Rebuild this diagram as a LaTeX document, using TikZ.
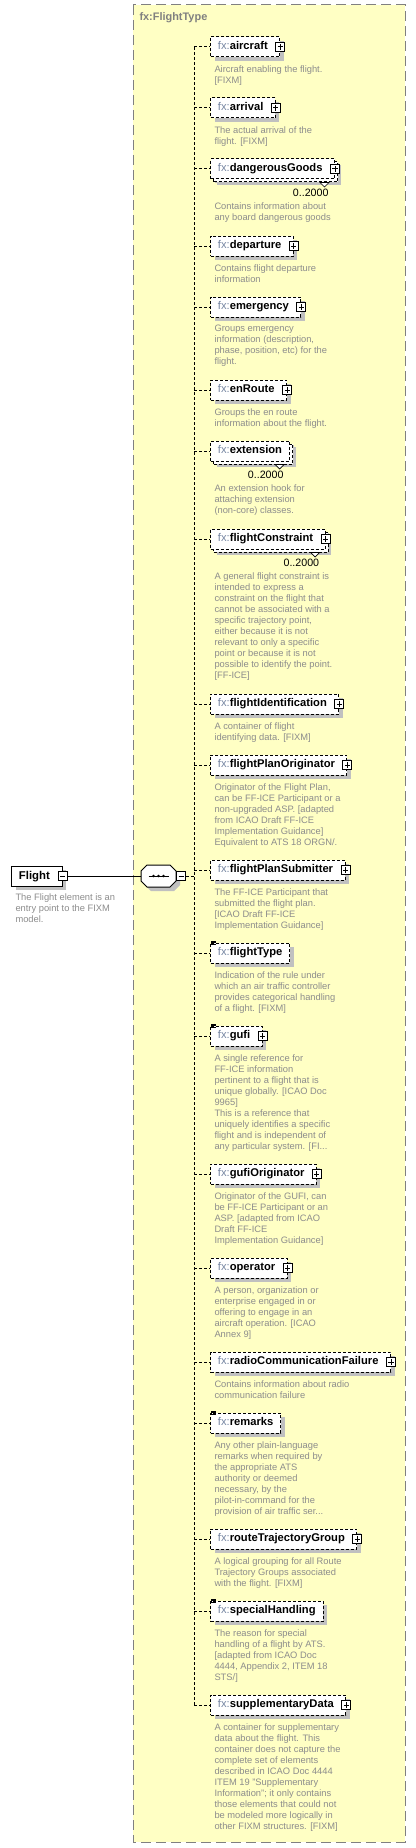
\documentclass[tikz,border=0pt]{standalone}
\usepackage{fontspec}
\setmainfont{Liberation Sans}
\usetikzlibrary{positioning, shadows, calc}

\definecolor{typeyellow}{RGB}{255,255,196}
\definecolor{shadowgray}{RGB}{192,192,192}
\definecolor{docgray}{RGB}{140,140,140}
\definecolor{prefixblue}{RGB}{118,134,162}
\definecolor{framegray}{RGB}{128,128,128}

\newcommand{\fxname}[1]{{\color{prefixblue}fx:}\textbf{#1}}

\begin{document}
\begin{tikzpicture}[
    x=0.75pt, y=-0.75pt, line width=0.75pt,
    % Element boxes
    elem/.style={draw, dash pattern=on 2.25pt off 1.5pt, fill=white, anchor=west, minimum height=15pt, inner xsep=5.6pt, inner ysep=0pt, text height=6pt, text depth=1.7pt, font=\fontsize{8.4}{10}\selectfont, drop shadow={shadow xshift=3pt, shadow yshift=-3pt, fill=shadowgray, opacity=1}},
    multi/.style={general shadow={shadow xshift=4.5pt, shadow yshift=-4.5pt, fill=shadowgray}, general shadow={shadow xshift=2.25pt, shadow yshift=-2.25pt, fill=white, draw=black, dash pattern=on 2.25pt off 1.5pt}},
    root/.style={draw, fill=white, anchor=west, minimum height=15pt, inner xsep=5.6pt, inner ysep=0pt, text height=6.3pt, text depth=0.5pt, font=\fontsize{8.5}{10}\selectfont\bfseries, drop shadow={shadow xshift=3pt, shadow yshift=-3pt, fill=shadowgray, opacity=1}},
    seq/.style={minimum width=25.5pt, minimum height=15.75pt, inner sep=0pt, anchor=west},
    octagon/.style={draw, fill=white, drop shadow={shadow xshift=3pt, shadow yshift=-3pt, fill=shadowgray, opacity=1}},
    % Small signs
    plus/.style={draw, solid, fill=white, minimum size=6.8pt, inner sep=0pt, path picture={
        \draw ([xshift=1.5pt]path picture bounding box.west) -- ([xshift=-1.5pt]path picture bounding box.east);
        \draw ([yshift=-1.5pt]path picture bounding box.north) -- ([yshift=1.5pt]path picture bounding box.south);}},
    minus/.style={draw, solid, fill=white, minimum size=6.8pt, inner sep=0pt, path picture={
        \draw ([xshift=1.5pt]path picture bounding box.west) -- ([xshift=-1.5pt]path picture bounding box.east);}},
    icon/.style={solid, line width=0.6pt},
    notch/.style={draw, solid, fill=white, line width=0.5pt},
    % Texts
    doc/.style={align=left, inner sep=0pt, text=docgray, font=\fontsize{7}{8.25}\selectfont},
    occ/.style={inner sep=0pt, font=\fontsize{8}{9.6}\selectfont},
    % Lines
    conn/.style={draw=black, dash pattern=on 2.25pt off 1.5pt},
    frame/.style={draw=framegray, fill=typeyellow, dash pattern=on 7.5pt off 3.75pt}
]
    \useasboundingbox (0,0) rectangle (416,1848);

    % ==================== Complex type frame ====================
    \draw [frame] (133,5) rectangle (405,1842);
    \node (title) [anchor=west, inner sep=0pt, text=framegray, font=\fontsize{8.2}{9.8}\selectfont\bfseries] at (139,18) {fx:FlightType};

    \coordinate (bus) at (194,0);

    % ==================== Root element and sequence ====================
    \node (flight) [root] at (11,876) {Flight\kern3.75pt};
    \node (flight_minus) [minus] at (flight.east) {};
    \node (flight_doc) [doc, below right=5pt and 3pt of flight.south west] {The Flight element is an\\entry point to the FIXM\\model.};

    \node (seq) [seq] at (141,876) {};
    \draw [octagon] ([xshift=4.5pt]seq.north west) -- ([xshift=-4.5pt]seq.north east) -- ([yshift=-4.5pt]seq.north east) -- ([yshift=4.5pt]seq.south east) -- ([xshift=-4.5pt]seq.south east) -- ([xshift=4.5pt]seq.south west) -- ([yshift=4.5pt]seq.south west) -- ([yshift=-4.5pt]seq.north west) -- cycle;
    \node (seq_minus) [minus, right=0pt of seq] {};
    \draw (seq.center) ++(-10,0) -- ++(20,0);
    \foreach \dx in {-5,0,5}
        \fill ($(seq.center)+(\dx,0)$) circle (1.1pt);

    \draw (flight_minus.east) -- (seq.west);

    % ==================== Child elements ====================
    \node (aircraft) [elem] at (210,47) {\fxname{aircraft}\kern3.4pt};
    \node (aircraft_plus) [plus] at (aircraft.east) {};
    \node (aircraft_doc) [doc, below right=5.5pt and 3pt of aircraft.south west] {Aircraft enabling the flight.\\{}[FIXM]};

    \node (arrival) [elem] at (210,108) {\fxname{arrival}\kern3.4pt};
    \node (arrival_plus) [plus] at (arrival.east) {};
    \node (arrival_doc) [doc, below right=5.5pt and 3pt of arrival.south west] {The actual arrival of the\\flight. [FIXM]};

    \node (dangerousGoods) [elem, multi] at (210,169) {\fxname{dangerousGoods}\kern3.4pt};
    \node (dangerousGoods_plus) [plus] at (dangerousGoods.east) {};
    \draw [notch] ([shift={(-15,3)}]dangerousGoods.south east) -- ++(9,0) -- ++(-4.5,4.5) -- cycle;
    \node (dangerousGoods_occ) [occ, below left=6.5pt and 4.5pt of dangerousGoods.south east] {0..2000};
    \node (dangerousGoods_doc) [doc, below right=17pt and 3pt of dangerousGoods.south west] {Contains information about\\any board dangerous goods};

    \node (departure) [elem] at (210,246) {\fxname{departure}\kern3.4pt};
    \node (departure_plus) [plus] at (departure.east) {};
    \node (departure_doc) [doc, below right=5.5pt and 3pt of departure.south west] {Contains flight departure\\information};

    \node (emergency) [elem] at (210,307) {\fxname{emergency}\kern3.4pt};
    \node (emergency_plus) [plus] at (emergency.east) {};
    \node (emergency_doc) [doc, below right=5.5pt and 3pt of emergency.south west] {Groups emergency\\information (description,\\phase, position, etc) for the\\flight.};

    \node (enRoute) [elem] at (210,390) {\fxname{enRoute}\kern3.4pt};
    \node (enRoute_plus) [plus] at (enRoute.east) {};
    \node (enRoute_doc) [doc, below right=5.5pt and 3pt of enRoute.south west] {Groups the en route\\information about the flight.};

    \node (extension) [elem, multi] at (210,451) {\fxname{extension}};
    \draw [notch] ([shift={(-15,3)}]extension.south east) -- ++(9,0) -- ++(-4.5,4.5) -- cycle;
    \node (extension_occ) [occ, below left=6.5pt and 4.5pt of extension.south east] {0..2000};
    \node (extension_doc) [doc, below right=17pt and 3pt of extension.south west] {An extension hook for\\attaching extension\\(non-core) classes.};

    \node (flightConstraint) [elem, multi] at (210,539) {\fxname{flightConstraint}\kern3.4pt};
    \node (flightConstraint_plus) [plus] at (flightConstraint.east) {};
    \draw [notch] ([shift={(-15,3)}]flightConstraint.south east) -- ++(9,0) -- ++(-4.5,4.5) -- cycle;
    \node (flightConstraint_occ) [occ, below left=6.5pt and 4.5pt of flightConstraint.south east] {0..2000};
    \node (flightConstraint_doc) [doc, below right=17pt and 3pt of flightConstraint.south west] {A general flight constraint is\\intended to express a\\constraint on the flight that\\cannot be associated with a\\specific trajectory point,\\either because it is not\\relevant to only a specific\\point or because it is not\\possible to identify the point.\\{}[FF-ICE]};

    \node (flightIdentification) [elem] at (210,704) {\fxname{flightIdentification}\kern3.4pt};
    \node (flightIdentification_plus) [plus] at (flightIdentification.east) {};
    \node (flightIdentification_doc) [doc, below right=5.5pt and 3pt of flightIdentification.south west] {A container of flight\\identifying data. [FIXM]};

    \node (flightPlanOriginator) [elem] at (210,765) {\fxname{flightPlanOriginator}\kern3.4pt};
    \node (flightPlanOriginator_plus) [plus] at (flightPlanOriginator.east) {};
    \node (flightPlanOriginator_doc) [doc, below right=5.5pt and 3pt of flightPlanOriginator.south west] {Originator of the Flight Plan,\\can be FF-ICE Participant or a\\non-upgraded ASP. [adapted\\from ICAO Draft FF-ICE\\Implementation Guidance]\\Equivalent to ATS 18 ORGN/.};

    \node (flightPlanSubmitter) [elem] at (210,870) {\fxname{flightPlanSubmitter}\kern3.4pt};
    \node (flightPlanSubmitter_plus) [plus] at (flightPlanSubmitter.east) {};
    \node (flightPlanSubmitter_doc) [doc, below right=5.5pt and 3pt of flightPlanSubmitter.south west] {The FF-ICE Participant that\\submitted the flight plan.\\{}[ICAO Draft FF-ICE\\Implementation Guidance]};

    \node (flightType) [elem] at (210,953) {\fxname{flightType}};
    \draw [icon] ([shift={(1,-1.5)}]flightType.north west) -- ++(5,0) ++(-5,1.8) -- ++(5,0) ++(-5,1.8) -- ++(5,0);
    \node (flightType_doc) [doc, below right=5.5pt and 3pt of flightType.south west] {Indication of the rule under\\which an air traffic controller\\provides categorical handling\\of a flight. [FIXM]};

    \node (gufi) [elem] at (210,1036) {\fxname{gufi}\kern3.4pt};
    \node (gufi_plus) [plus] at (gufi.east) {};
    \draw [icon] ([shift={(1,-1.5)}]gufi.north west) -- ++(5,0) ++(-5,1.8) -- ++(5,0) ++(-5,1.8) -- ++(5,0);
    \node (gufi_doc) [doc, below right=5.5pt and 3pt of gufi.south west] {A single reference for\\FF-ICE information\\pertinent to a flight that is\\unique globally. [ICAO Doc\\9965]\\This is a reference that\\uniquely identifies a specific\\flight and is independent of\\any particular system. [FI...};

    \node (gufiOriginator) [elem] at (210,1174) {\fxname{gufiOriginator}\kern3.4pt};
    \node (gufiOriginator_plus) [plus] at (gufiOriginator.east) {};
    \node (gufiOriginator_doc) [doc, below right=5.5pt and 3pt of gufiOriginator.south west] {Originator of the GUFI, can\\be FF-ICE Participant or an\\ASP. [adapted from ICAO\\Draft FF-ICE\\Implementation Guidance]};

    \node (operator) [elem] at (210,1268) {\fxname{operator}\kern3.4pt};
    \node (operator_plus) [plus] at (operator.east) {};
    \node (operator_doc) [doc, below right=5.5pt and 3pt of operator.south west] {A person, organization or\\enterprise engaged in or\\offering to engage in an\\aircraft operation. [ICAO\\Annex 9]};

    \node (radioCommunicationFailure) [elem] at (210,1362) {\fxname{radioCommunicationFailure}\kern3.4pt};
    \node (radioCommunicationFailure_plus) [plus] at (radioCommunicationFailure.east) {};
    \node (radioCommunicationFailure_doc) [doc, below right=5.5pt and 3pt of radioCommunicationFailure.south west] {Contains information about radio\\communication failure};

    \node (remarks) [elem] at (210,1423) {\fxname{remarks}};
    \draw [icon] ([shift={(1,-1.5)}]remarks.north west) -- ++(5,0) ++(-5,1.8) -- ++(5,0) ++(-5,1.8) -- ++(5,0);
    \node (remarks_doc) [doc, below right=5.5pt and 3pt of remarks.south west] {Any other plain-language\\remarks when required by\\the appropriate ATS\\authority or deemed\\necessary, by the\\pilot-in-command for the\\provision of air traffic ser...};

    \node (routeTrajectoryGroup) [elem] at (210,1539) {\fxname{routeTrajectoryGroup}\kern3.4pt};
    \node (routeTrajectoryGroup_plus) [plus] at (routeTrajectoryGroup.east) {};
    \node (routeTrajectoryGroup_doc) [doc, below right=5.5pt and 3pt of routeTrajectoryGroup.south west] {A logical grouping for all Route\\Trajectory Groups associated\\with the flight. [FIXM]};

    \node (specialHandling) [elem] at (210,1611) {\fxname{specialHandling}};
    \draw [icon] ([shift={(1,-1.5)}]specialHandling.north west) -- ++(5,0) ++(-5,1.8) -- ++(5,0) ++(-5,1.8) -- ++(5,0);
    \node (specialHandling_doc) [doc, below right=5.5pt and 3pt of specialHandling.south west] {The reason for special\\handling of a flight by ATS.\\{}[adapted from ICAO Doc\\4444, Appendix 2, ITEM 18\\STS/]};

    \node (supplementaryData) [elem] at (210,1705) {\fxname{supplementaryData}\kern3.4pt};
    \node (supplementaryData_plus) [plus] at (supplementaryData.east) {};
    \node (supplementaryData_doc) [doc, below right=5.5pt and 3pt of supplementaryData.south west] {A container for supplementary\\data about the flight. This\\container does not capture the\\complete set of elements\\described in ICAO Doc 4444\\ITEM 19 "Supplementary\\Information"; it only contains\\those elements that could not\\be modeled more logically in\\other FIXM structures. [FIXM]};

    % ==================== Sequence bus ====================
    \draw [conn] (seq_minus.east) -- (bus |- seq_minus.east);
    \draw [conn] (bus |- aircraft.west) -- (bus |- supplementaryData.west);
    \foreach \n in {aircraft, arrival, dangerousGoods, departure, emergency, enRoute, extension, flightConstraint, flightIdentification, flightPlanOriginator, flightPlanSubmitter, flightType, gufi, gufiOriginator, operator, radioCommunicationFailure, remarks, routeTrajectoryGroup, specialHandling, supplementaryData}
        \draw [conn] (bus |- \n.west) -- (\n.west);

\end{tikzpicture}
\end{document}
